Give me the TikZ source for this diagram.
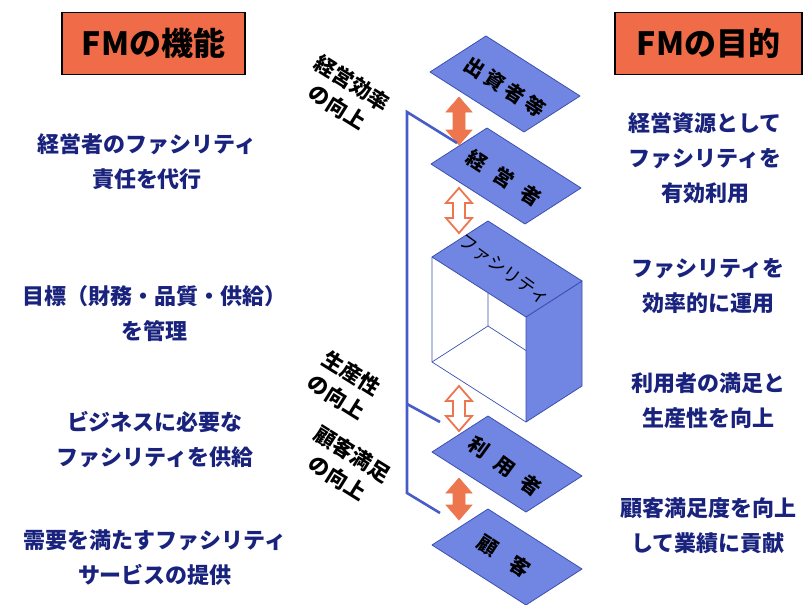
\documentclass[tikz,border=0pt]{standalone}
\usepackage{fontspec}
\setmainfont{Noto Sans CJK JP}
\definecolor{plateblue}{RGB}{112,134,226}
\definecolor{plateedge}{RGB}{60,80,175}
\definecolor{navy}{RGB}{25,35,125}
\definecolor{hdr}{RGB}{240,108,72}
\definecolor{arr}{RGB}{238,118,78}
\definecolor{linkblue}{RGB}{72,92,200}
\tikzset{
 plate/.style={fill=plateblue, draw=plateedge, line width=0.8pt, line join=round},
 platetext/.style={font=\bfseries\fontsize{20}{24}\selectfont, text=black, inner sep=0pt},
 sidelabel/.style={font=\bfseries\fontsize{21}{28}\selectfont, align=center, rotate=-32, inner sep=0pt},
 block/.style={font=\bfseries\fontsize{22}{35}\selectfont, text=navy, align=center, inner sep=0pt},
 header/.style={fill=hdr, draw=black, line width=1.5pt, minimum height=62pt, font=\bfseries\fontsize{32}{38}\selectfont, inner sep=0pt},
 fullarr/.style={fill=arr, draw=arr, line width=0.6pt},
 openarr/.style={fill=white, draw=arr, line width=1.8pt},
 link/.style={draw=linkblue, line width=2.6pt, line join=miter},
 boxline/.style={draw=plateedge, line width=0.7pt},
}
\newcommand{\plate}[3]{%
 \draw[plate] (#2,#3) -- ++(56,-36) -- ++(94,60) -- ++(-56,36) -- cycle;
 \coordinate (#1) at (#2+75,#3+12);}
\newcommand{\dblarr}[4]{%
 \draw[#4] (#1,#2) -- (#1+13,#2+15) -- (#1+6,#2+15) -- (#1+6,#3-15) -- (#1+13,#3-15) -- (#1,#3) -- (#1-13,#3-15) -- (#1-6,#3-15) -- (#1-6,#2+15) -- (#1-13,#2+15) -- cycle;}
\begin{document}
\begin{tikzpicture}[x=1pt,y=-1pt]
\useasboundingbox[fill=white] (0,0) rectangle (812,605);

% headers
\node[header, minimum width=183pt] (hl) at (153.5,43.5) {FMの機能};
\node[header, minimum width=187pt] (hr) at (708.5,43.5) {FMの目的};

% plates
\plate{p1}{430}{72}
\plate{p2}{431}{164}
% facility box
\draw[plate] (526,317) -- (582,281) -- (582,386) -- (526,422) -- cycle;
\plate{p3}{432}{257}
\draw[boxline] (432,257) -- (432,362) -- (526,422);
\draw[boxline] (488,293) -- (488,326) -- (432,362);
\draw[boxline] (488,326) -- (526,350.5);
\plate{p4}{432}{452}
\plate{p5}{432}{545}

\node[platetext, rotate=-33] (t1) at (505,87) {出\hspace{4pt}資\hspace{4pt}者\hspace{4pt}等};
\node[platetext, rotate=-33] (t2) at (504,178) {経\hspace{12pt}営\hspace{12pt}者};
\node[platetext, font=\fontsize{18}{22}\selectfont, rotate=-36] (t3) at (504,270) {ファシリティ};
\node[platetext, rotate=-36] (t4) at (505,466) {利\hspace{12pt}用\hspace{12pt}者};
\node[platetext, rotate=-33] (t5) at (504,556) {顧\hspace{18pt}客};

% arrows
\dblarr{459}{97}{145}{fullarr}
\dblarr{459}{188}{233}{openarr}
\dblarr{459}{386}{431}{openarr}
\dblarr{459}{478}{520}{fullarr}

% connector line
\coordinate (c0) at (457,143);
\coordinate (c1) at (407,112);
\coordinate (c2) at (407,493);
\coordinate (c3) at (440,513);
\coordinate (b0) at (407,404);
\coordinate (b1) at (440,422);
\draw[link] (c0) -- (c1) -- (c2) -- (c3);
\draw[link] (b0) -- (b1);

% side labels
\node[sidelabel] (s1) at (345,95) {経営効率\\の向上};
\node[sidelabel] (s2) at (344,385) {生産性\\の向上};
\node[sidelabel] (s3) at (345,466) {顧客満足\\の向上};

% left blocks
\node[block] (f1) at (147,162) {経営者のファシリティ\\責任を代行};
\node[block] (f2) at (155,314) {目標（財務・品質・供給）\\を管理};
\node[block] (f3) at (155,440) {ビジネスに必要な\\ファシリティを供給};
\node[block] (f4) at (155,558) {需要を満たすファシリティ\\サービスの提供};

% right blocks
\node[block] (g1) at (705,158) {経営資源として\\ファシリティを\\有効利用};
\node[block] (g2) at (708,286) {ファシリティを\\効率的に運用};
\node[block] (g3) at (708,401) {利用者の満足と\\生産性を向上};
\node[block] (g4) at (708,526) {顧客満足度を向上\\して業績に貢献};
\end{tikzpicture}
\end{document}
